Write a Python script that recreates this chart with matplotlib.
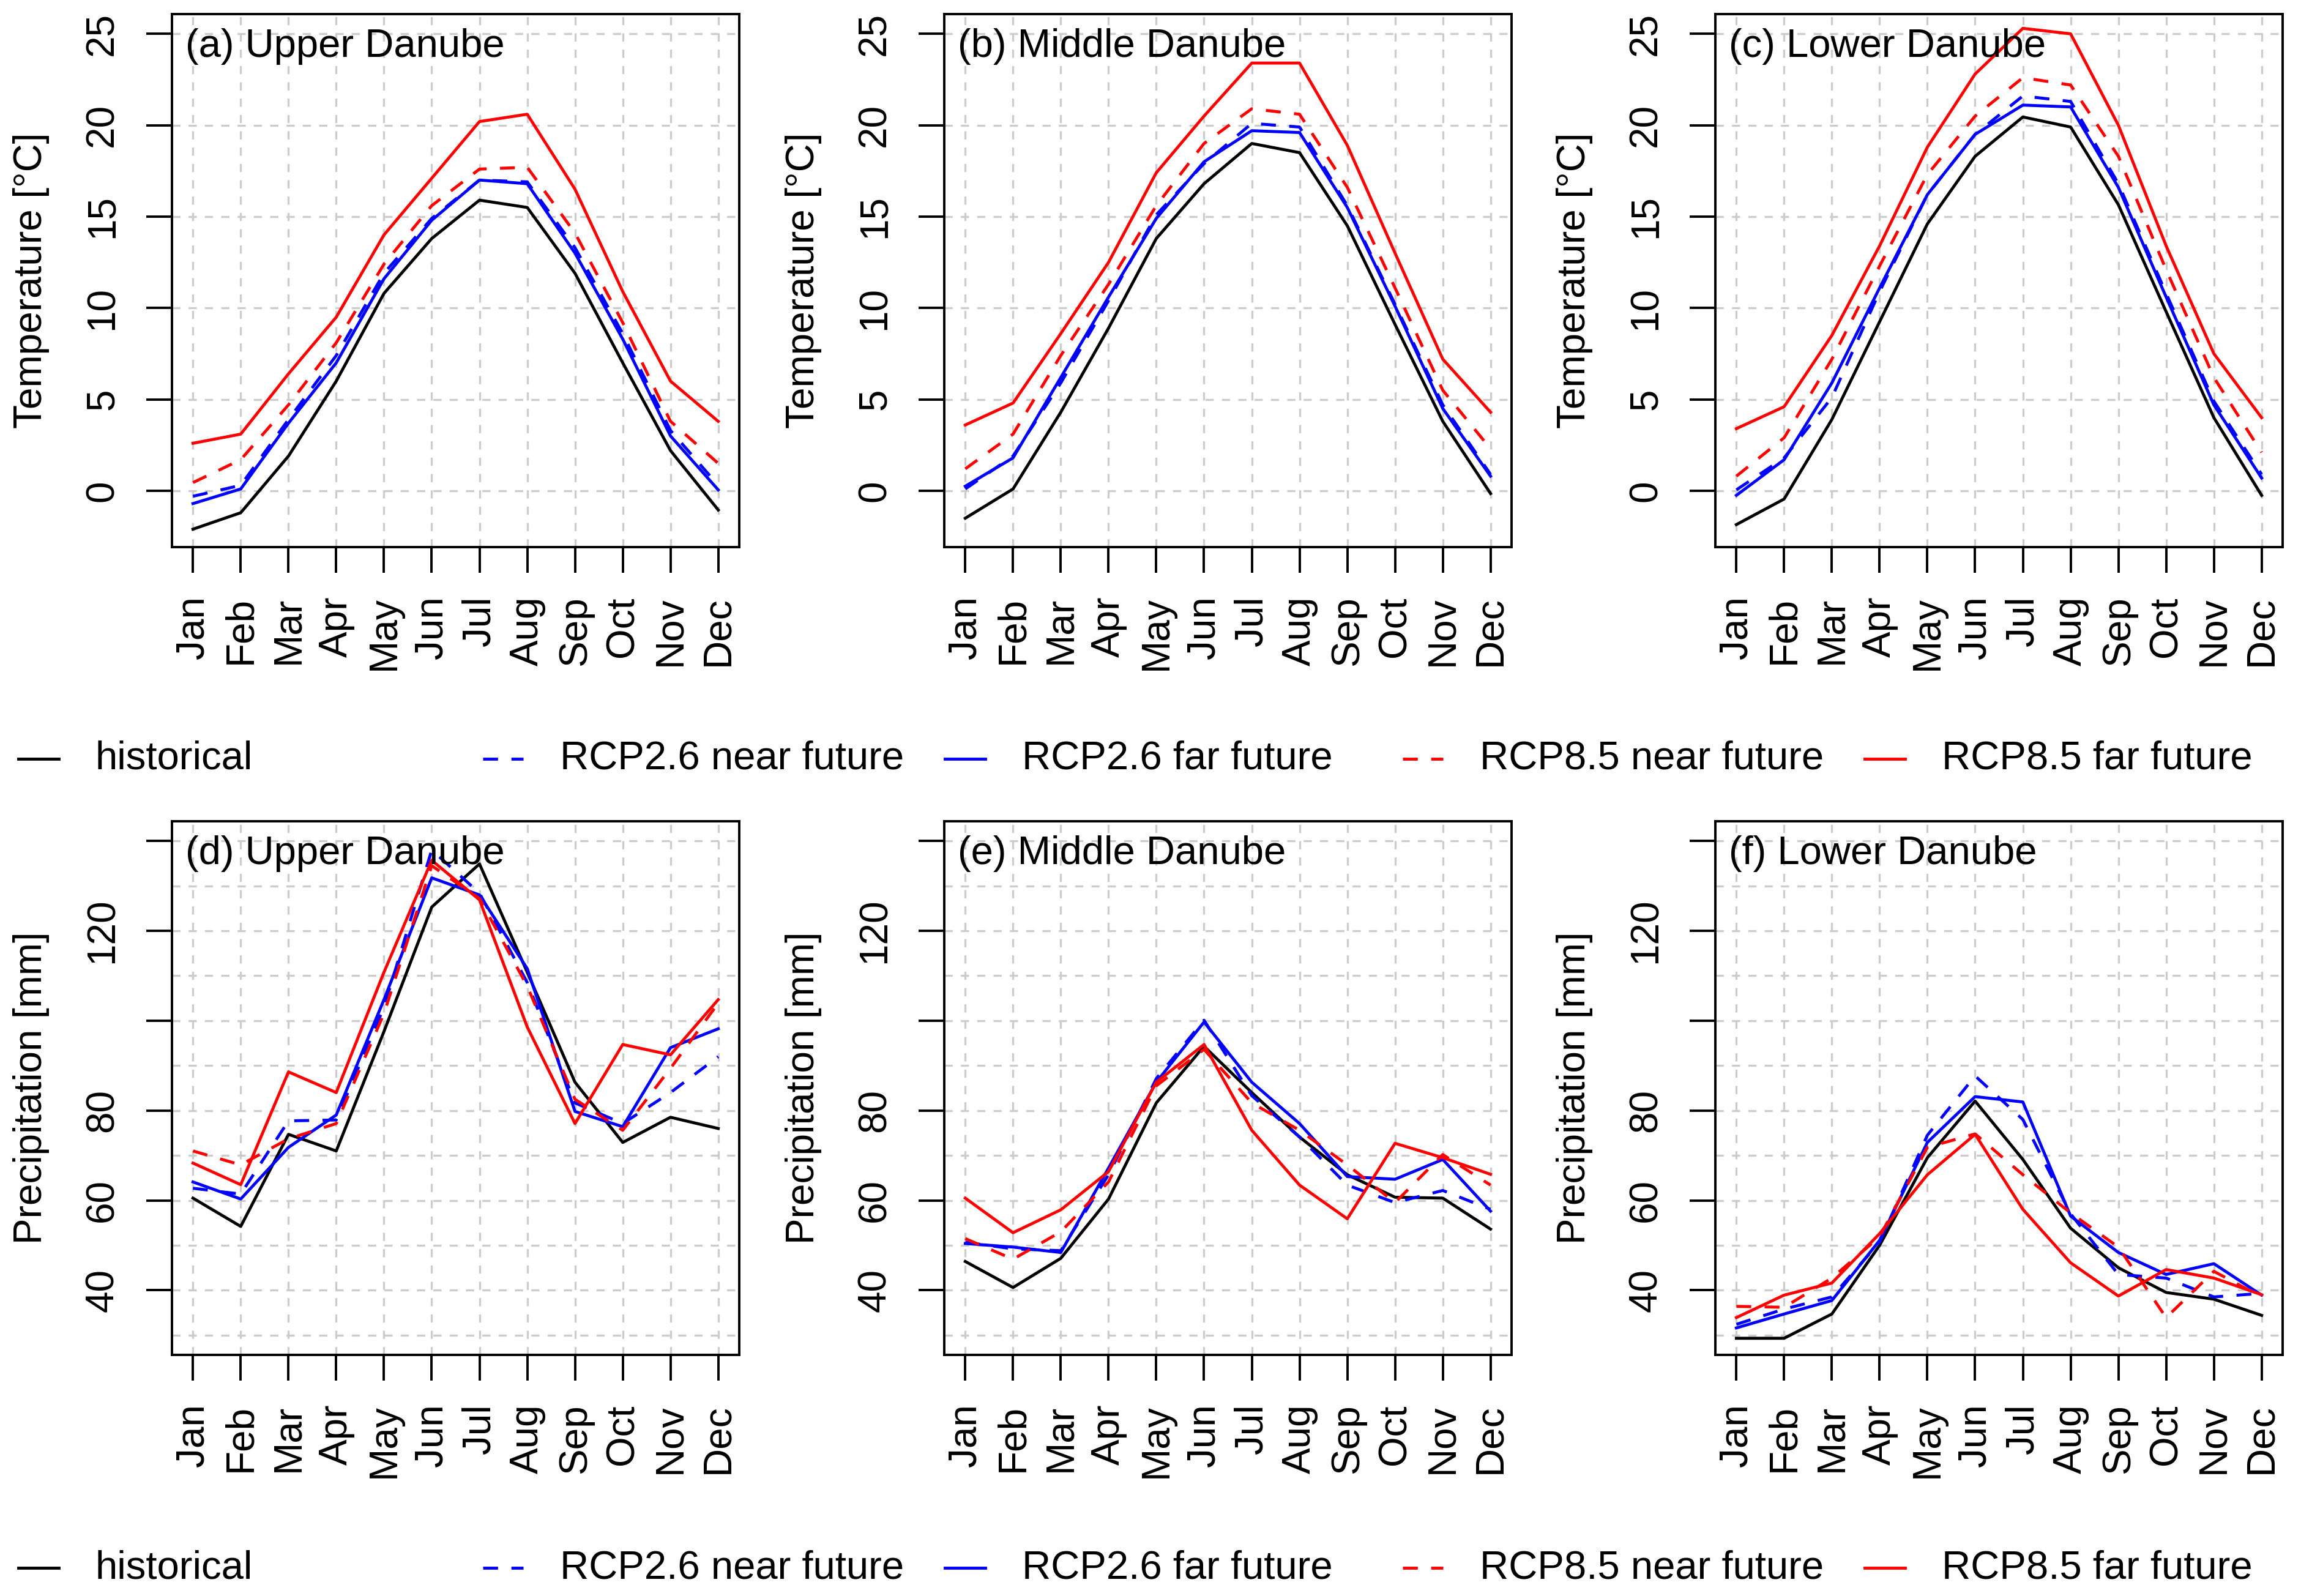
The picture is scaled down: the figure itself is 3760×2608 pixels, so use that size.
import matplotlib
matplotlib.use("Agg")
import matplotlib.pyplot as plt
import numpy as np
from matplotlib.lines import Line2D

plt.rcParams['font.family'] = ['Liberation Sans', 'DejaVu Sans']

months = ['Jan', 'Feb', 'Mar', 'Apr', 'May', 'Jun', 'Jul', 'Aug', 'Sep', 'Oct', 'Nov', 'Dec']
series_names = ['historical', 'RCP2.6 near future', 'RCP2.6 far future',
                'RCP8.5 near future', 'RCP8.5 far future']
panel_titles = ['(a) Upper Danube', '(b) Middle Danube', '(c) Lower Danube',
                '(d) Upper Danube', '(e) Middle Danube', '(f) Lower Danube']

# temperature [degC]
t_up_hist = [-2.1, -1.2, 1.9, 6.0, 10.8, 13.8, 15.9, 15.5, 11.9, 7.0, 2.2, -1.05]
t_up_26n = [-0.3, 0.3, 3.9, 7.4, 11.9, 14.9, 17.0, 16.9, 13.3, 8.6, 3.3, 0.3]
t_up_26f = [-0.7, 0.1, 3.7, 7.0, 11.6, 14.8, 17.0, 16.8, 13.0, 8.3, 3.0, 0.05]
t_up_85n = [0.45, 1.7, 4.7, 8.1, 12.4, 15.6, 17.6, 17.7, 14.1, 9.2, 3.8, 1.5]
t_up_85f = [2.6, 3.1, 6.4, 9.5, 14.0, 17.1, 20.2, 20.6, 16.5, 10.9, 6.0, 3.8]

t_mid_hist = [-1.5, 0.1, 4.3, 8.9, 13.8, 16.8, 19.0, 18.5, 14.5, 9.1, 3.8, -0.15]
t_mid_26n = [0.1, 1.9, 5.9, 10.4, 15.1, 17.9, 20.1, 19.9, 15.6, 10.2, 4.7, 0.9]
t_mid_26f = [0.25, 1.8, 6.2, 10.6, 14.9, 18.0, 19.7, 19.6, 15.5, 10.1, 4.5, 0.8]
t_mid_85n = [1.2, 3.1, 7.4, 11.3, 15.6, 19.0, 20.9, 20.6, 16.6, 11.1, 5.5, 2.3]
t_mid_85f = [3.6, 4.8, 8.6, 12.5, 17.4, 20.5, 23.4, 23.4, 18.9, 13.0, 7.2, 4.3]

t_low_hist = [-1.85, -0.45, 3.9, 9.25, 14.6, 18.3, 20.45, 19.9, 15.65, 9.8, 4.0, -0.25]
t_low_26n = [0.05, 1.8, 5.1, 10.9, 16.2, 19.5, 21.6, 21.3, 16.8, 10.8, 4.9, 0.9]
t_low_26f = [-0.25, 1.7, 5.9, 11.1, 16.2, 19.5, 21.1, 21.0, 16.6, 10.6, 4.7, 0.7]
t_low_85n = [0.8, 2.9, 7.2, 12.3, 17.3, 20.5, 22.6, 22.2, 18.3, 12.1, 6.2, 2.1]
t_low_85f = [3.4, 4.6, 8.5, 13.4, 18.8, 22.8, 25.3, 25.0, 20.0, 13.4, 7.5, 4.0]

# precipitation [mm]
p_up_hist = [60.5, 54.2, 74.7, 71.0, 97.6, 125.3, 134.9, 110.8, 86.3, 72.9, 78.5, 76.0]
p_up_26n = [62.7, 61.4, 77.7, 77.9, 103.0, 138.0, 128.4, 108.5, 81.7, 77.1, 84.0, 92.0]
p_up_26f = [64.1, 60.3, 71.8, 79.0, 104.7, 131.8, 128.0, 111.6, 79.8, 76.4, 94.0, 98.2]
p_up_85n = [71.0, 67.9, 73.7, 77.1, 101.6, 134.5, 127.2, 107.7, 82.5, 75.6, 89.4, 103.9]
p_up_85f = [68.3, 63.5, 88.6, 84.0, 110.8, 135.7, 126.9, 98.6, 77.1, 94.7, 92.4, 104.7]

p_mid_hist = [46.4, 40.6, 47.1, 60.3, 81.7, 94.3, 84.0, 74.1, 65.7, 60.7, 60.5, 53.6]
p_mid_26n = [50.7, 49.2, 48.8, 65.7, 87.1, 100.1, 83.3, 74.1, 63.4, 59.5, 62.2, 58.0]
p_mid_26f = [50.4, 49.6, 48.4, 67.2, 86.3, 99.7, 86.3, 77.1, 65.3, 64.7, 69.1, 57.6]
p_mid_85n = [51.5, 46.9, 53.0, 64.1, 85.5, 93.6, 81.7, 75.6, 67.9, 59.5, 70.2, 63.4]
p_mid_85f = [60.5, 52.8, 57.9, 66.4, 86.3, 94.7, 75.6, 63.4, 55.9, 72.7, 69.5, 65.8]

p_low_hist = [29.3, 29.3, 34.7, 50.0, 69.5, 82.1, 69.1, 53.8, 45.0, 39.5, 38.0, 34.4]
p_low_26n = [32.4, 35.8, 38.5, 50.7, 74.5, 87.7, 78.0, 57.0, 43.5, 42.7, 38.5, 39.3]
p_low_26f = [31.6, 34.7, 37.7, 51.1, 72.9, 83.1, 81.9, 56.5, 48.4, 43.5, 45.9, 38.9]
p_low_85n = [36.4, 36.2, 42.7, 51.9, 71.8, 74.8, 65.7, 57.2, 49.6, 33.9, 44.2, 38.5]
p_low_85f = [33.9, 38.9, 41.6, 52.6, 65.7, 74.7, 58.0, 46.1, 38.7, 44.6, 42.7, 39.0]

temp_ticks = [0, 5, 10, 15, 20, 25]
temp_labels = ['0', '5', '10', '15', '20', '25']
prec_ticks = [40, 60, 80, 100, 120, 140]
prec_labels = ['40', '60', '80', '', '120', '']
prec_grid = [30, 40, 50, 60, 70, 80, 90, 100, 110, 120, 130, 140]

colors = ['black', '#0000FF', '#0000FF', '#FF0000', '#FF0000']
dash = (0, (5, 4.5))
styles = ['-', dash, '-', dash, '-']
LW = 3.5
FS = 46

panels = [
    [t_up_hist, t_up_26n, t_up_26f, t_up_85n, t_up_85f],
    [t_mid_hist, t_mid_26n, t_mid_26f, t_mid_85n, t_mid_85f],
    [t_low_hist, t_low_26n, t_low_26f, t_low_85n, t_low_85f],
    [p_up_hist, p_up_26n, p_up_26f, p_up_85n, p_up_85f],
    [p_mid_hist, p_mid_26n, p_mid_26f, p_mid_85n, p_mid_85f],
    [p_low_hist, p_low_26n, p_low_26f, p_low_85n, p_low_85f],
]

W, H = 3760, 2608
fig = plt.figure(figsize=(W / 100, H / 100), dpi=100)

lefts = [281, 1543, 2803]
rows = [(23, 894), (1342, 2214)]
x = np.arange(1, 13)

for i, data in enumerate(panels):
    r, c = divmod(i, 3)
    top, bot = rows[r]
    ax = fig.add_axes([lefts[c] / W, 1 - bot / H, 927 / W, (bot - top) / H])

    # grid first
    grid_y = temp_ticks if r == 0 else prec_grid
    for g in grid_y:
        ax.axhline(g, color='#CCCCCC', lw=2.4, ls=(0, (4, 4)), zorder=0)
    for g in x:
        ax.axvline(g, color='#CCCCCC', lw=2.4, ls=(0, (4, 4)), zorder=0)

    for vals, col, st in zip(data, colors, styles):
        ax.plot(x, vals, color=col, ls=st, lw=LW, zorder=2)

    ax.set_xlim(0.56, 12.44)
    ax.set_xticks(x)
    ax.set_xticklabels(months, rotation=90, fontsize=FS)
    if r == 0:
        ax.set_ylim(-3.08, 26.08)
        ax.set_yticks(temp_ticks)
        ax.set_yticklabels(temp_labels, rotation=90, va='center', fontsize=FS)
        ylab = 'Temperature [°C]'
    else:
        ax.set_ylim(25.6, 144.4)
        ax.set_yticks(prec_ticks)
        ax.set_yticklabels(prec_labels, rotation=90, va='center', fontsize=FS)
        ylab = 'Precipitation [mm]'

    ax.tick_params(axis='both', length=30, width=2.8, color='black')
    ax.tick_params(axis='x', pad=28)
    ax.tick_params(axis='y', pad=30)
    for s in ax.spines.values():
        s.set_linewidth(2.8)

    ax.text(-0.248, 0.5, ylab, transform=ax.transAxes, rotation=90,
            ha='center', va='center', fontsize=FS)
    ax.text(0.024, 0.92, panel_titles[i], transform=ax.transAxes,
            ha='left', va='baseline', fontsize=FS + 1, zorder=3)

# legends under each row
leg_x = [30, 789, 1544, 2292, 3047]
for ly in [1240, 2562]:
    yf = 1 - ly / H
    for k, name in enumerate(series_names):
        x0 = leg_x[k] / W
        fig.add_artist(Line2D([x0, x0 + 66 / W], [yf, yf], color=colors[k],
                              ls=styles[k], lw=LW))
        fig.text(x0 + 126 / W, yf, name, ha='left', va='center', fontsize=FS + 1)

fig.savefig('out.png', dpi=100)
